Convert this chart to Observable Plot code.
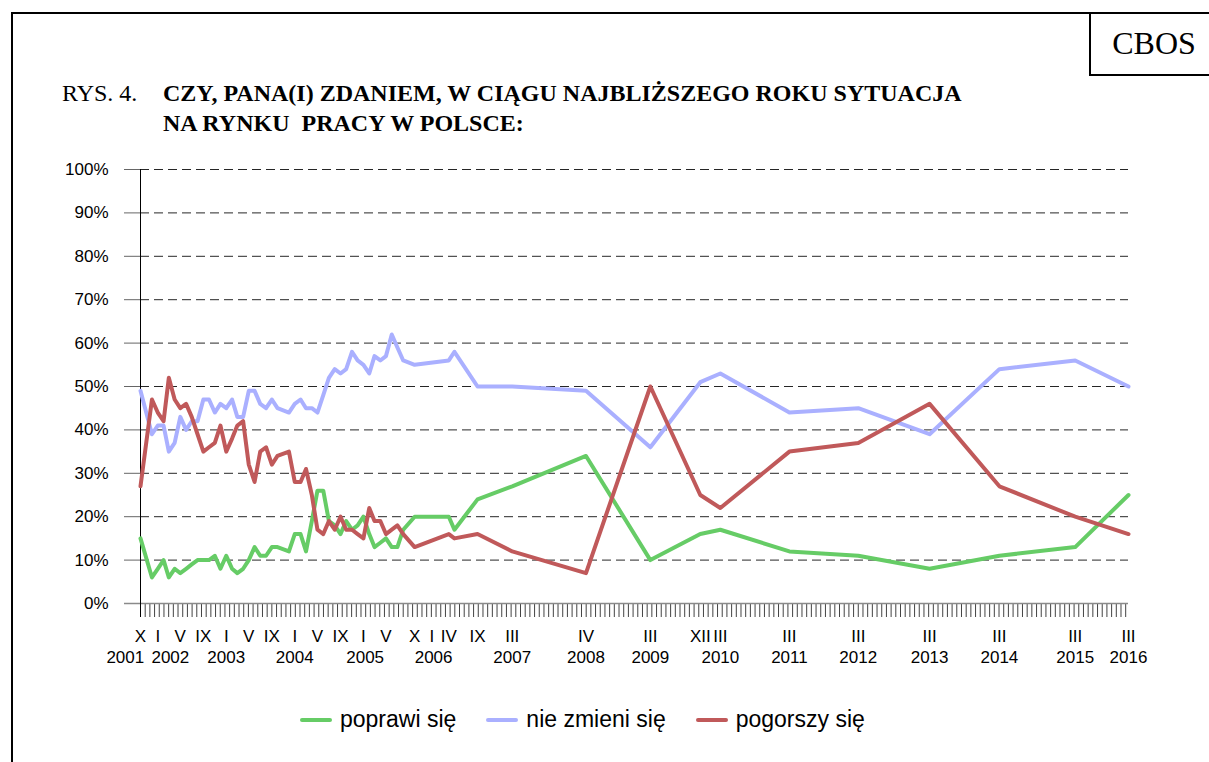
<!DOCTYPE html>
<html>
<head>
<meta charset="utf-8">
<script src="https://cdn.jsdelivr.net/npm/d3@7"></script>
<script src="https://cdn.jsdelivr.net/npm/@observablehq/plot@0.6"></script>
<style>
  html, body { margin: 0; padding: 0; background: #fff; }
  body { width: 1209px; height: 762px; overflow: hidden; position: relative; font-family: "Liberation Sans", Arial, sans-serif; }
  #frame { position: absolute; left: 11px; top: 12px; width: 1220px; height: 770px; border-top: 2px solid #000; border-left: 2px solid #000; }
  #cbos { position: absolute; left: 1089px; top: 12px; width: 130px; height: 62px; border-left: 2px solid #000; border-bottom: 2px solid #000; }
  #cbos span { position: absolute; left: 0; width: 126px; top: 0; line-height: 62px; text-align: center; font-family: "Liberation Serif", "Times New Roman", serif; font-size: 32px; color: #000; padding-right: 8px; }
  .title { position: absolute; font-family: "Liberation Serif", "Times New Roman", serif; font-size: 24px; color: #000; white-space: pre; line-height: 30px; }
  #rys { left: 62px; top: 78px; }
  #t1 { left: 163px; top: 78px; font-weight: bold; }
  #chart { position: absolute; left: 0; top: 150px; }
  #legend { position: absolute; left: 300px; top: 706px; display: flex; gap: 30px; align-items: center; font-size: 23px; color: #000; }
  .item { display: flex; align-items: center; white-space: nowrap; }
  .sw { width: 32px; height: 4px; margin-right: 8px; border-radius: 2px; }
</style>
</head>
<body>
<div id="frame"></div>
<div id="cbos"><span>CBOS</span></div>
<div class="title" id="rys">RYS. 4.</div>
<div class="title" id="t1">CZY, PANA(I) ZDANIEM, W CIĄGU NAJBLIŻSZEGO ROKU SYTUACJA
NA RYNKU  PRACY W POLSCE:</div>
<div id="chart"></div>
<div id="legend"></div>
<script>
// ---- data ----
const dates = [
  "2001-10-01","2001-12-01","2002-01-01","2002-02-01","2002-03-01","2002-04-01","2002-05-01","2002-06-01","2002-07-01","2002-08-01","2002-09-01","2002-10-01","2002-11-01","2002-12-01",
  "2003-01-01","2003-02-01","2003-03-01","2003-04-01","2003-05-01","2003-06-01","2003-07-01","2003-08-01","2003-09-01","2003-10-01","2003-12-01",
  "2004-01-01","2004-02-01","2004-03-01","2004-04-01","2004-05-01","2004-06-01","2004-07-01","2004-08-01","2004-09-01","2004-10-01","2004-11-01","2004-12-01",
  "2005-01-01","2005-02-01","2005-03-01","2005-04-01","2005-05-01","2005-06-01","2005-07-01","2005-08-01","2005-10-01",
  "2006-04-01","2006-05-01","2006-09-01","2007-03-05","2008-04-01","2009-03-10","2009-12-01","2010-03-18",
  "2011-03-21","2012-03-22","2013-04-06","2014-04-13","2015-05-22","2016-03-01"
];
const poprawi = [
  15, 6, 8, 10, 6, 8, 7, 8, 9, 10, 10, 10, 11, 8,
  11, 8, 7, 8, 10, 13, 11, 11, 13, 13, 12,
  16, 16, 12, 19, 26, 26, 19, 18, 16, 19, 17, 18,
  20, 16, 13, 14, 15, 13, 13, 17, 20,
  20, 17, 24, 27, 34, 10, 16, 17,
  12, 11, 8, 11, 13, 25
];
const nieZmieni = [
  49, 39, 41, 41, 35, 37, 43, 40, 42, 42, 47, 47, 44, 46,
  45, 47, 43, 43, 49, 49, 46, 45, 47, 45, 44,
  46, 47, 45, 45, 44, 48, 52, 54, 53, 54, 58, 56,
  55, 53, 57, 56, 57, 62, 59, 56, 55,
  56, 58, 50, 50, 49, 36, 51, 53,
  44, 45, 39, 54, 56, 50
];
const pogorszy = [
  27, 47, 44, 42, 52, 47, 45, 46, 43, 39, 35, 36, 37, 41,
  35, 38, 41, 42, 32, 28, 35, 36, 32, 34, 35,
  28, 28, 31, 25, 17, 16, 19, 17, 20, 17, 17, 16,
  15, 22, 19, 19, 16, 17, 18, 16, 13,
  16, 15, 16, 12, 7, 50, 25, 22,
  35, 37, 46, 27, 20, 16
];
const seriesNames = ["poprawi się", "nie zmieni się", "pogorszy się"];
const seriesColors = ["#66cc66", "#aab0ff", "#c0595a"];

const monthLabelDates = ["2001-10-01","2002-01-01","2002-05-01","2002-09-01","2003-01-01","2003-05-01","2003-09-01","2004-01-01","2004-05-01","2004-09-01","2005-01-01","2005-05-01","2005-10-01","2006-01-01","2006-04-01","2006-09-01","2007-03-05","2008-04-01","2009-03-10","2009-12-01","2010-03-18","2011-03-21","2012-03-22","2013-04-06","2014-04-13","2015-05-22","2016-03-01"];
const monthLabels = ["X","I","V","IX","I","V","IX","I","V","IX","I","V","X","I","IV","IX","III","IV","III","XII","III","III","III","III","III","III","III"];
const yearLabelDates = ["2001-07-12","2002-03-09","2003-01-01","2004-01-01","2005-01-10","2006-01-10","2007-03-05","2008-04-01","2009-03-10","2010-03-18","2011-03-21","2012-03-22","2013-04-06","2014-04-13","2015-05-22","2016-03-01"];
const yearLabels = ["2001","2002","2003","2004","2005","2006","2007","2008","2009","2010","2011","2012","2013","2014","2015","2016"];
const yTicks = [0,10,20,30,40,50,60,70,80,90,100];

// ---- build ----
const D = dates.map(d => new Date(d));
const rows = D.map((d, i) => ({date: d, a: poprawi[i], b: nieZmieni[i], c: pogorszy[i]}));
const start = D[0], end = D[D.length - 1];
const stepMs = 25 * 86400000;
const xTicks = d3.range(0, Math.floor((end - start) / stepMs) + 1).map(i => new Date(+start + i * stepMs));
const mLab = monthLabelDates.map((d, i) => ({date: new Date(d), t: monthLabels[i]}));
const yLab = yearLabelDates.map((d, i) => ({date: new Date(d), t: yearLabels[i]}));

const chart = Plot.plot({
  width: 1209, height: 530,
  marginTop: 19, marginBottom: 77, marginLeft: 140, marginRight: 81,
  style: {background: "transparent", fontFamily: "'Liberation Sans', Arial, sans-serif", fontSize: "17px", color: "#000", overflow: "visible"},
  x: {type: "utc", domain: [start, end], label: null},
  y: {domain: [0, 100], label: null},
  marks: [
    Plot.ruleY(yTicks.slice(1), {stroke: "#000", strokeDasharray: "9,5", strokeOpacity: 0.85}),
    Plot.axisY({ticks: yTicks, tickSize: 16, tickPadding: 16, tickFormat: d => d + "%", stroke: "#666", fill: "#000"}),
    Plot.axisX({ticks: xTicks, tickSize: 14, tickFormat: () => "", stroke: "#444"}),
    Plot.ruleY([0], {stroke: "#8a8a8a", strokeWidth: 1.5, insetLeft: -16}),
    Plot.ruleX([start], {stroke: "#000", insetBottom: -14}),
    Plot.lineY(rows, {x: "date", y: "a", stroke: seriesColors[0], strokeWidth: 4, strokeLinejoin: "round", strokeLinecap: "round"}),
    Plot.lineY(rows, {x: "date", y: "b", stroke: seriesColors[1], strokeWidth: 4, strokeLinejoin: "round", strokeLinecap: "round"}),
    Plot.lineY(rows, {x: "date", y: "c", stroke: seriesColors[2], strokeWidth: 4, strokeLinejoin: "round", strokeLinecap: "round"}),
    Plot.text(mLab, {x: "date", y: d => 0, text: "t", dy: 33, fill: "#000"}),
    Plot.text(yLab, {x: "date", y: d => 0, text: "t", dy: 54, fill: "#000"})
  ]
});
document.getElementById("chart").appendChild(chart);

const legend = document.getElementById("legend");
seriesNames.forEach((n, i) => {
  const it = document.createElement("div");
  it.className = "item";
  const sw = document.createElement("div");
  sw.className = "sw";
  sw.style.background = seriesColors[i];
  const tx = document.createElement("span");
  tx.textContent = n;
  it.appendChild(sw); it.appendChild(tx);
  legend.appendChild(it);
});
</script>
</body>
</html>
